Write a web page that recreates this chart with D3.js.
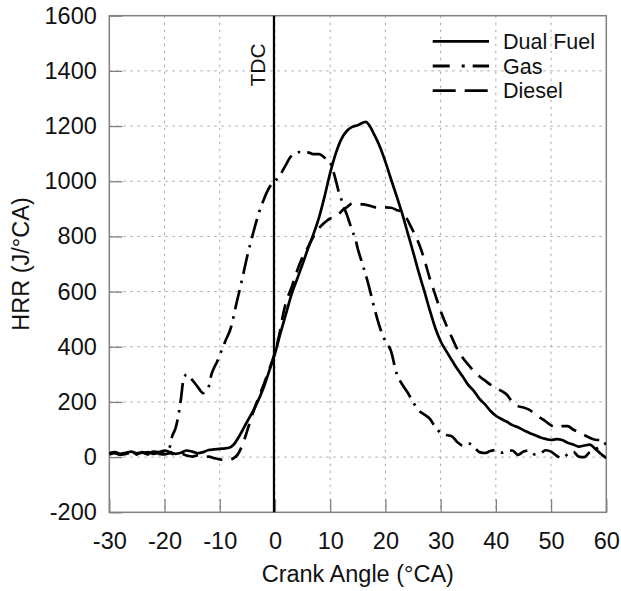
<!DOCTYPE html>
<html>
<head>
<meta charset="utf-8">
<script src="https://cdn.jsdelivr.net/npm/d3@7"></script>
<style>
  html, body { margin: 0; padding: 0; background: #fff; }
  svg { display: block; font-family: "Liberation Sans", Arial, sans-serif; }
</style>
</head>
<body>
<svg id="chart" width="621" height="591"></svg>
<script>
// ---------------- DATA ----------------
const xTicks = [-30, -20, -10, 0, 10, 20, 30, 40, 50, 60];
const yTicks = [-200, 0, 200, 400, 600, 800, 1000, 1200, 1400, 1600];
const seriesNames = ["Dual Fuel", "Gas", "Diesel"];

const dualFuelAngle = [-30,-29,-28,-27,-26,-25,-24,-23,-22,-21,-20,-19,-18,-17,-16,-15,-14,-13,-12,-11,-10,-9,-8.3,-7.5,-6.5,-5,-3.5,-2,-1,0,1,2,3,4,5,6,7,8,9,10,11,12,13,14,15,16,16.5,17,18,19,20,21,22,23,24,25,26,27,28,29,30,31,32,33,34,35,36,37,38,39,40,41,42,43,44,45,46,47,48,49,50,51,52,53,54,55,56,57,58,59,60];
const dualFuelHRR   = [15,18,12,16,20,14,18,12,20,18,24,18,12,16,24,20,14,18,26,28,30,32,34,45,75,130,185,255,315,375,450,520,590,645,700,757,810,870,946,1030,1100,1152,1182,1197,1203,1213,1215,1205,1168,1125,1070,1008,948,885,815,745,672,605,535,470,420,385,352,320,292,262,240,212,192,168,150,138,128,116,108,98,88,80,72,66,62,65,62,52,46,38,42,45,30,12,-4];

const gasAngle = [-30,-29,-28,-27,-26,-25,-24,-23,-22,-21,-20,-19.5,-19,-18.7,-18,-17.5,-17,-16.6,-16,-15,-14,-13,-12.5,-12,-11.5,-11,-10.5,-10,-9,-8,-7,-6,-5,-4,-3,-2,-1,0,1,2,2.7,3.5,4.5,5.5,6.3,7,8,9,10,10.5,11,11.5,12,12.5,13,13.5,14,14.5,15,16,17,18,19,20,21,22,23,24,25,26,27,28,29,30,31,32,33,34,35,36,37,38,39,40,41,42,43,44,45,46,47,48,49,50,51,52,53,54,55,56,57,58,59,60];
const gasHRR   = [10,14,8,12,16,10,14,18,12,16,20,24,40,70,105,150,215,278,300,280,255,232,240,255,300,325,345,370,420,468,555,640,730,808,880,935,978,1000,1025,1060,1085,1100,1106,1105,1103,1098,1098,1085,1067,1040,1005,965,935,905,880,850,820,795,755,690,620,540,470,420,385,305,265,235,200,170,155,140,110,88,80,76,55,42,50,38,18,15,22,26,16,22,24,8,20,24,10,12,25,20,5,-4,10,20,2,0,18,28,40,51];

const dieselAngle = [-30,-29,-28,-27,-26,-25,-24,-23,-22,-21,-20,-19,-18,-17,-16,-15,-14,-13,-12,-11,-10,-9.5,-8.5,-7.5,-6.8,-6.2,-5.7,-4.8,-4,-3,-2,-1,0,1,1.5,2,3,4,5,6,7,8,9,9.6,10,10.5,11,11.75,12.5,13,14,15,16,17,18,19,20,21,22,22.6,23,23.8,24.5,25,26,27,28,29,30,31,32,33,34,35,36,37,38,39,40,41,42,43,44,45,46,47,48,49,50,51,52,53,54,55,56,57,58,59,60];
const dieselHRR   = [12,16,10,14,18,12,16,10,14,12,10,14,8,12,6,2,6,0,2,-4,-8,-10,-10,-4,8,30,55,110,160,215,265,320,380,465,520,560,615,675,725,762,800,830,850,860,865,868,872,885,900,905,920,918,916,912,906,903,905,904,896,891,880,867,840,820,777,720,650,590,530,480,435,392,360,335,312,293,278,263,250,240,226,200,185,180,172,158,143,130,115,108,112,112,100,90,80,70,63,62,69];

// ---------------- LAYOUT ----------------
const svg = d3.select("#chart");
const M = { left: 109.3, top: 15.7, right: 606.3, bottom: 512.3 };

const x = d3.scaleLinear().domain([-30, 60]).range([M.left, M.right]);
const y = d3.scaleLinear().domain([-200, 1600]).range([M.bottom, M.top]);

const gridColor = "#a8a8a8";
const frameColor = "#808080";
const fmt = d => String(d);

// Grid
const grid = svg.append("g");
grid.selectAll(".gx").data(xTicks.filter(d => d > -30 && d < 60)).join("line")
  .attr("x1", d => x(d)).attr("x2", d => x(d))
  .attr("y1", M.top).attr("y2", M.bottom)
  .attr("stroke", gridColor).attr("stroke-width", 1).attr("stroke-dasharray", "2.5,4.5");
grid.selectAll(".gy").data(yTicks.filter(d => d > -200 && d < 1600)).join("line")
  .attr("x1", M.left).attr("x2", M.right)
  .attr("y1", d => y(d)).attr("y2", d => y(d))
  .attr("stroke", gridColor).attr("stroke-width", 1).attr("stroke-dasharray", "2.5,4.5");

// Axes (inward ticks)
const fontSize = 23.5;
const yAxis = d3.axisLeft(y).tickValues(yTicks).tickFormat(fmt).tickSizeInner(-13).tickSizeOuter(0).tickPadding(12.5);
const gy = svg.append("g").attr("transform", `translate(${M.left},0)`).call(yAxis);
gy.select(".domain").remove();
gy.selectAll(".tick line").attr("stroke", frameColor).attr("stroke-width", 1.3);
gy.selectAll(".tick text").attr("font-size", fontSize).attr("fill", "#111")
  .attr("font-family", "Liberation Sans, Arial, sans-serif");

const xAxis = d3.axisBottom(x).tickValues(xTicks).tickFormat(fmt).tickSizeInner(-13).tickSizeOuter(0).tickPadding(20);
const gx = svg.append("g").attr("transform", `translate(0,${M.bottom})`).call(xAxis);
gx.select(".domain").remove();
gx.selectAll(".tick line").attr("stroke", frameColor).attr("stroke-width", 1.3);
gx.selectAll(".tick text").attr("font-size", fontSize).attr("fill", "#111")
  .attr("font-family", "Liberation Sans, Arial, sans-serif");

// Frame
svg.append("rect")
  .attr("x", M.left).attr("y", M.top)
  .attr("width", M.right - M.left).attr("height", M.bottom - M.top)
  .attr("fill", "none").attr("stroke", frameColor).attr("stroke-width", 1.5);

// Clip
svg.append("clipPath").attr("id", "clip").append("rect")
  .attr("x", M.left).attr("y", M.top)
  .attr("width", M.right - M.left).attr("height", M.bottom - M.top);

const line = d3.line().x(d => x(d[0])).y(d => y(d[1])).curve(d3.curveMonotoneX);
const zip = (a, b) => a.map((v, i) => [v, b[i]]);

const styles = {
  "Dual Fuel": { dash: null, legendDash: null, data: zip(dualFuelAngle, dualFuelHRR) },
  "Gas":       { dash: "20,7,2.5,7", legendDash: "17,12,3,8", data: zip(gasAngle, gasHRR) },
  "Diesel":    { dash: "16,9", legendDash: "23,9", data: zip(dieselAngle, dieselHRR) }
};

const plot = svg.append("g").attr("clip-path", "url(#clip)");
["Diesel", "Gas", "Dual Fuel"].forEach(name => {
  const s = styles[name];
  plot.append("path").datum(s.data)
    .attr("d", line)
    .attr("fill", "none").attr("stroke", "#000").attr("stroke-width", 2.7)
    .attr("stroke-linejoin", "round")
    .attr("stroke-dasharray", s.dash);
});

// TDC line
svg.append("line")
  .attr("x1", x(0) - 1).attr("x2", x(0) - 1)
  .attr("y1", M.top).attr("y2", M.bottom)
  .attr("stroke", "#000").attr("stroke-width", 2.2);
svg.append("text")
  .attr("transform", `translate(257,65) rotate(-90)`)
  .attr("text-anchor", "middle").attr("dominant-baseline", "central")
  .attr("font-size", 21).attr("fill", "#111").text("TDC");

// Legend
const legend = svg.append("g");
seriesNames.forEach((name, i) => {
  const ly = 41.3 + i * 24.7;
  legend.append("line")
    .attr("x1", 432.7).attr("x2", 489).attr("y1", ly).attr("y2", ly)
    .attr("stroke", "#000").attr("stroke-width", 2.8)
    .attr("stroke-dasharray", styles[name].legendDash);
  legend.append("text")
    .attr("x", 503).attr("y", ly).attr("dy", "0.36em")
    .attr("font-size", 21.5).attr("fill", "#111").text(name);
});

// Axis titles
svg.append("text")
  .attr("x", (M.left + M.right) / 2).attr("y", 582)
  .attr("text-anchor", "middle").attr("font-size", fontSize).attr("fill", "#111")
  .text("Crank Angle (°CA)");
svg.append("text")
  .attr("transform", `translate(21,${(M.top + M.bottom) / 2}) rotate(-90)`)
  .attr("text-anchor", "middle").attr("dominant-baseline", "central")
  .attr("font-size", fontSize).attr("fill", "#111")
  .text("HRR (J/°CA)");
</script>
</body>
</html>
